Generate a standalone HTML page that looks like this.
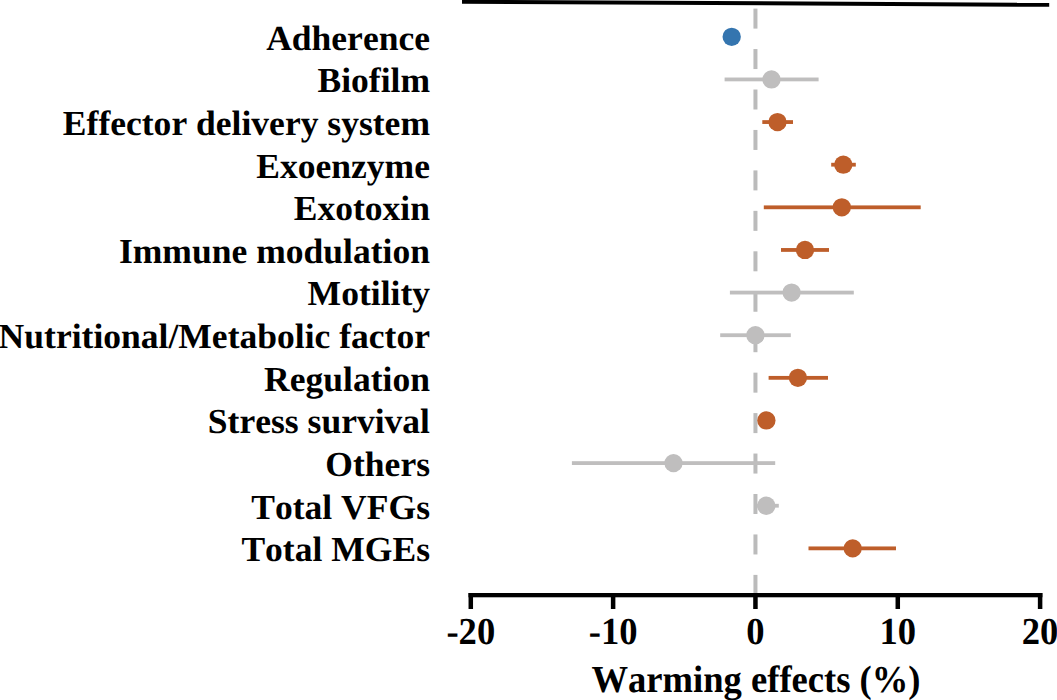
<!DOCTYPE html>
<html><head><meta charset="utf-8"><style>
html,body{margin:0;padding:0;background:#fff;}
svg{display:block;}
text{font-family:"Liberation Serif",serif;font-weight:bold;font-size:35.55px;fill:#000;font-kerning:none;font-variant-ligatures:none;text-rendering:geometricPrecision;}
</style></head><body>
<svg width="1057" height="700" viewBox="0 0 1057 700">
<rect width="1057" height="700" fill="#fff"/>
<rect x="753.45" y="8.60" width="4" height="20.00" fill="#BBBBBB"/>
<rect x="753.45" y="49.05" width="4" height="20.00" fill="#BBBBBB"/>
<rect x="753.45" y="89.50" width="4" height="20.00" fill="#BBBBBB"/>
<rect x="753.45" y="129.95" width="4" height="20.00" fill="#BBBBBB"/>
<rect x="753.45" y="170.40" width="4" height="20.00" fill="#BBBBBB"/>
<rect x="753.45" y="210.85" width="4" height="20.00" fill="#BBBBBB"/>
<rect x="753.45" y="251.30" width="4" height="20.00" fill="#BBBBBB"/>
<rect x="753.45" y="291.75" width="4" height="20.00" fill="#BBBBBB"/>
<rect x="753.45" y="332.20" width="4" height="20.00" fill="#BBBBBB"/>
<rect x="753.45" y="372.65" width="4" height="20.00" fill="#BBBBBB"/>
<rect x="753.45" y="413.10" width="4" height="20.00" fill="#BBBBBB"/>
<rect x="753.45" y="453.55" width="4" height="20.00" fill="#BBBBBB"/>
<rect x="753.45" y="494.00" width="4" height="20.00" fill="#BBBBBB"/>
<rect x="753.45" y="534.45" width="4" height="20.00" fill="#BBBBBB"/>
<rect x="753.45" y="574.90" width="4" height="20.00" fill="#BBBBBB"/>
<polygon points="462,-0.2 1049.2,2.85 1049.2,6.8 462,3.8" fill="#000"/>
<circle cx="731.70" cy="36.80" r="9.15" fill="#3475AF"/>
<rect x="724.60" y="77.53" width="94.00" height="3.8" fill="#BFBEBE"/>
<circle cx="771.50" cy="79.43" r="9.15" fill="#BFBEBE"/>
<rect x="762.30" y="120.16" width="30.70" height="3.8" fill="#BE5E2A"/>
<circle cx="777.50" cy="122.06" r="9.15" fill="#BE5E2A"/>
<rect x="831.20" y="162.79" width="24.60" height="3.8" fill="#BE5E2A"/>
<circle cx="843.30" cy="164.69" r="9.15" fill="#BE5E2A"/>
<rect x="763.80" y="205.42" width="156.90" height="3.8" fill="#BE5E2A"/>
<circle cx="841.80" cy="207.32" r="9.15" fill="#BE5E2A"/>
<rect x="781.00" y="248.05" width="48.00" height="3.8" fill="#BE5E2A"/>
<circle cx="805.00" cy="249.95" r="9.15" fill="#BE5E2A"/>
<rect x="729.90" y="290.68" width="123.90" height="3.8" fill="#BFBEBE"/>
<circle cx="791.60" cy="292.58" r="9.15" fill="#BFBEBE"/>
<rect x="720.20" y="333.31" width="70.60" height="3.8" fill="#BFBEBE"/>
<circle cx="755.40" cy="335.21" r="9.15" fill="#BFBEBE"/>
<rect x="768.60" y="375.94" width="59.40" height="3.8" fill="#BE5E2A"/>
<circle cx="797.90" cy="377.84" r="9.15" fill="#BE5E2A"/>
<circle cx="766.40" cy="420.47" r="9.15" fill="#BE5E2A"/>
<rect x="571.90" y="461.20" width="203.30" height="3.8" fill="#BFBEBE"/>
<circle cx="673.50" cy="463.10" r="9.15" fill="#BFBEBE"/>
<rect x="757.00" y="503.83" width="21.80" height="3.8" fill="#BFBEBE"/>
<circle cx="766.30" cy="505.73" r="9.15" fill="#BFBEBE"/>
<rect x="808.50" y="546.46" width="87.50" height="3.8" fill="#BE5E2A"/>
<circle cx="852.70" cy="548.36" r="9.15" fill="#BE5E2A"/>
<text x="430.0" y="50.20" transform="scale(1,0.99)" text-anchor="end">Adherence</text>
<text x="430.0" y="93.26" transform="scale(1,0.99)" text-anchor="end">Biofilm</text>
<text x="430.0" y="136.32" transform="scale(1,0.99)" text-anchor="end">Effector delivery system</text>
<text x="430.0" y="179.38" transform="scale(1,0.99)" text-anchor="end">Exoenzyme</text>
<text x="430.0" y="222.44" transform="scale(1,0.99)" text-anchor="end">Exotoxin</text>
<text x="430.0" y="265.51" transform="scale(1,0.99)" text-anchor="end">Immune modulation</text>
<text x="430.0" y="308.57" transform="scale(1,0.99)" text-anchor="end">Motility</text>
<text x="430.0" y="351.63" transform="scale(1,0.99)" text-anchor="end">Nutritional/Metabolic factor</text>
<text x="430.0" y="394.69" transform="scale(1,0.99)" text-anchor="end">Regulation</text>
<text x="430.0" y="437.75" transform="scale(1,0.99)" text-anchor="end">Stress survival</text>
<text x="430.0" y="480.81" transform="scale(1,0.99)" text-anchor="end">Others</text>
<text x="430.0" y="523.87" transform="scale(1,0.99)" text-anchor="end">Total VFGs</text>
<text x="430.0" y="566.93" transform="scale(1,0.99)" text-anchor="end">Total MGEs</text>
<rect x="468.5" y="593" width="573.9" height="4.3" fill="#000"/>
<rect x="468.54" y="593" width="4.5" height="16" fill="#000"/>
<text x="470.79" y="617.35" transform="scale(1,1.043)" text-anchor="middle" style="font-size:36.6px">-20</text>
<rect x="610.87" y="593" width="4.5" height="16" fill="#000"/>
<text x="613.12" y="617.35" transform="scale(1,1.043)" text-anchor="middle" style="font-size:36.6px">-10</text>
<rect x="753.20" y="593" width="4.5" height="16" fill="#000"/>
<text x="755.45" y="617.35" transform="scale(1,1.043)" text-anchor="middle" style="font-size:36.6px">0</text>
<rect x="895.53" y="593" width="4.5" height="16" fill="#000"/>
<text x="897.78" y="617.35" transform="scale(1,1.043)" text-anchor="middle" style="font-size:36.6px">10</text>
<rect x="1037.86" y="593" width="4.5" height="16" fill="#000"/>
<text x="1040.11" y="617.35" transform="scale(1,1.043)" text-anchor="middle" style="font-size:36.6px">20</text>
<text x="756.0" y="663.18" transform="scale(1,1.043)" text-anchor="middle" style="font-size:36.6px">Warming effects (%)</text>
</svg>
</body></html>
